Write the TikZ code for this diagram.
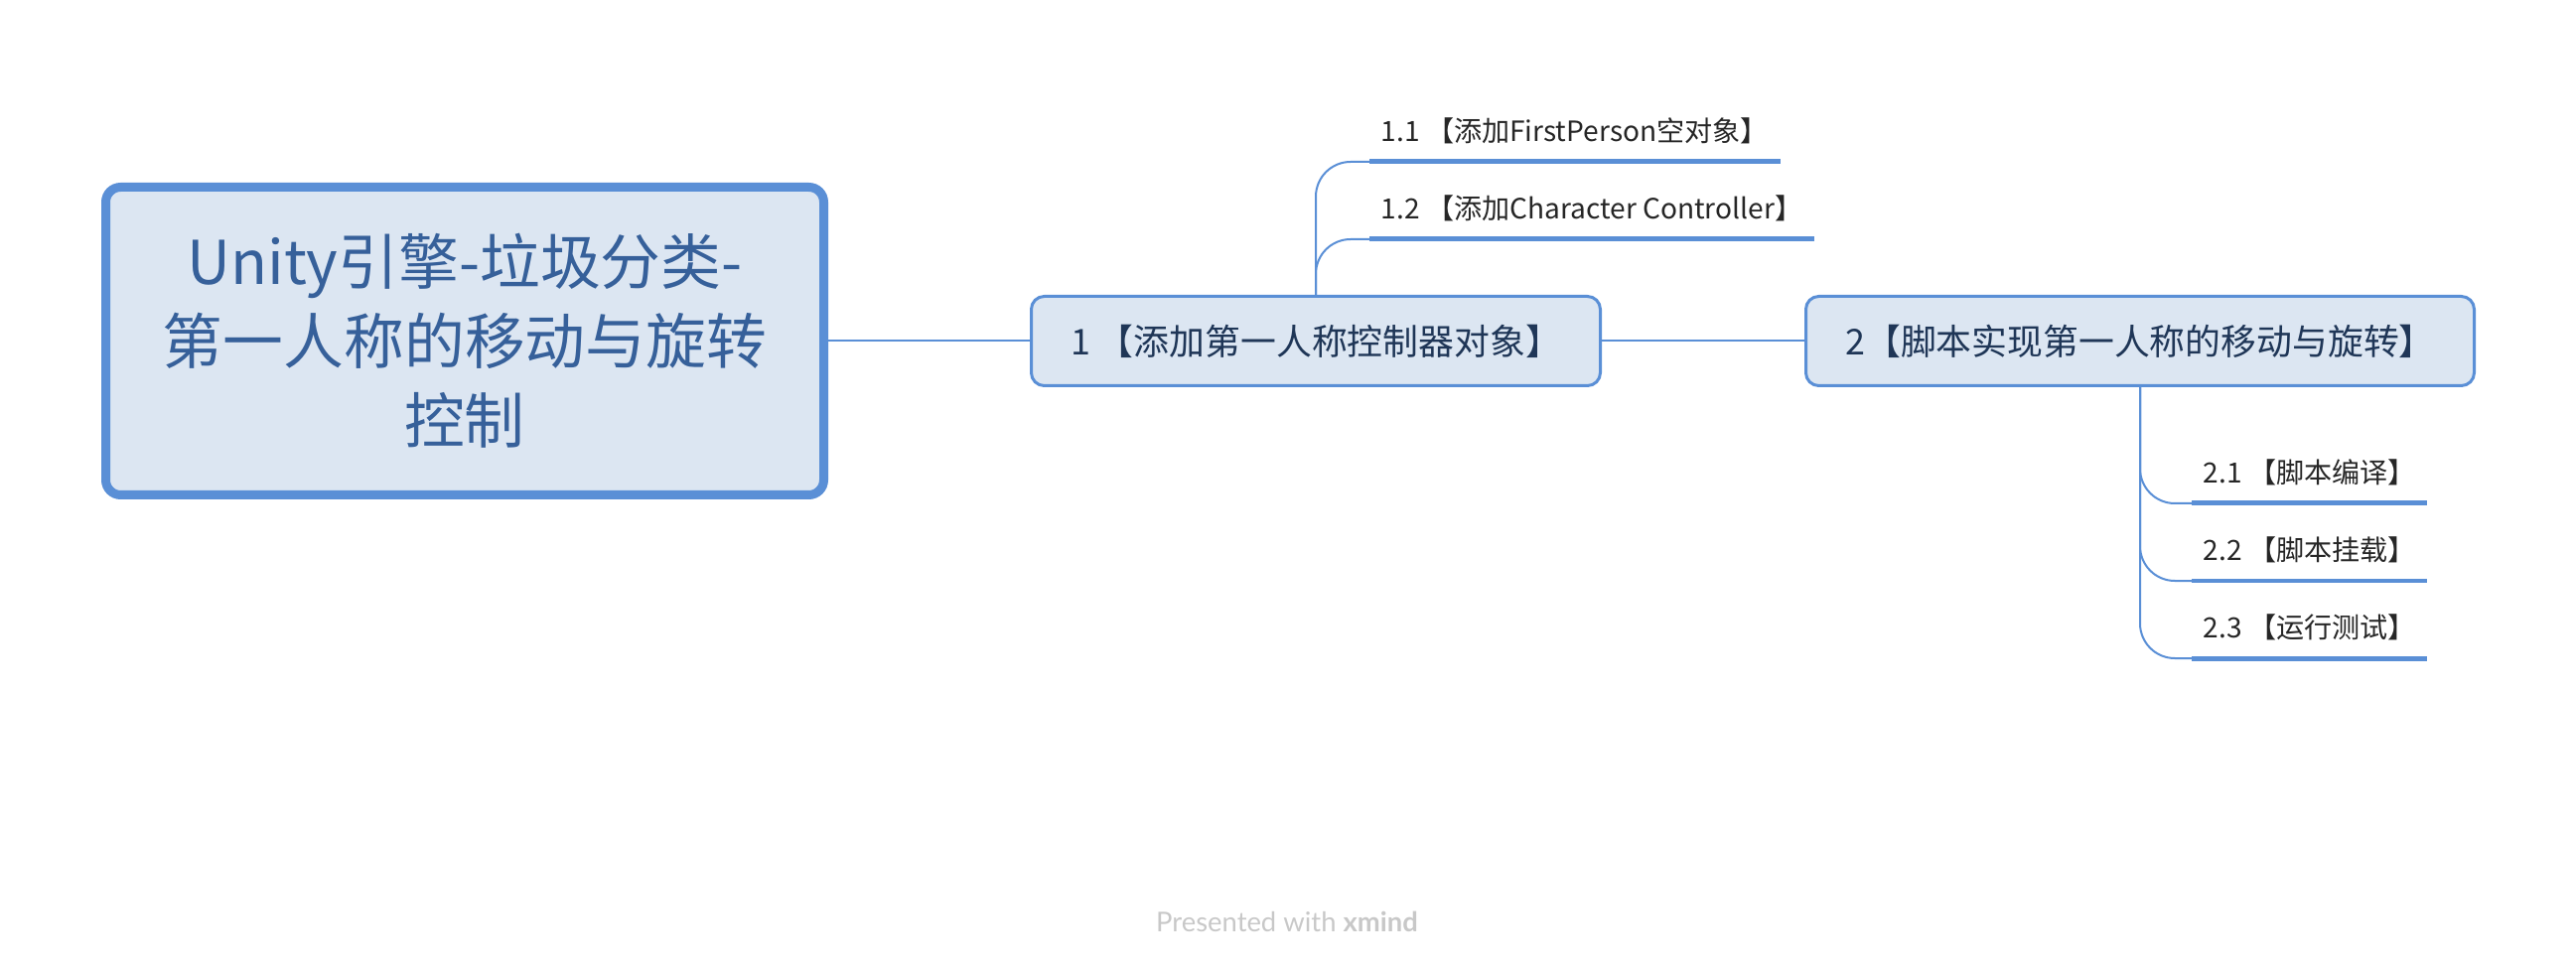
\documentclass[tikz,border=0pt]{standalone}
\usepackage{fontspec}
\setmainfont{Noto Sans CJK SC}
\newfontfamily\creditfont{Lato}
\usetikzlibrary{positioning}

\definecolor{mapblue}{HTML}{5A8FD6}
\definecolor{mapfill}{HTML}{DCE6F2}
\definecolor{roottext}{HTML}{36609A}
\definecolor{topictext}{HTML}{1F3657}
\definecolor{credittext}{HTML}{C8C8C8}

\tikzset{
    rootbox/.style={draw=mapblue, fill=mapfill, line width=0.9mm, rounded corners=1.5mm,
        minimum width=72.3mm, minimum height=31mm, align=center, text=roottext,
        font=\fontsize{17.3}{22.8}\selectfont},
    topic/.style={draw=mapblue, fill=mapfill, line width=0.3mm, rounded corners=1.3mm,
        minimum height=9mm, text=topictext, font=\fontsize{10.2}{12}\selectfont},
    leaf/.style={anchor=south west, inner xsep=1.1mm, inner ysep=2mm, text depth=0pt,
        text=black!85, font=\fontsize{8}{10}\selectfont},
    underline/.style={mapblue, line width=0.5mm},
    branch/.style={mapblue, line width=0.2mm},
}

\begin{document}
\begin{tikzpicture}[x=0.1mm, y=-0.1mm]
    \useasboundingbox (0,0) rectangle (2594,978);

    \node[rootbox] (root) at (468,343.5) {Unity引擎-垃圾分类-\\第一人称的移动与旋转\\控制};

    \node[topic, minimum width=57.3mm] (n1) at (1325,343.5) {1 【添加第一人称控制器对象】};
    \node[topic, minimum width=67.3mm] (n2) at (2155,343.5) {2【脚本实现第一人称的移动与旋转】};

    \node[leaf] (t11) at (1379,163) {1.1 【添加FirstPerson空对象】};
    \node[leaf] (t12) at (1379,241) {1.2 【添加Character Controller】};
    \node[leaf] (t21) at (2207,507) {2.1 【脚本编译】};
    \node[leaf] (t22) at (2207,585) {2.2 【脚本挂载】};
    \node[leaf] (t23) at (2207,663) {2.3 【运行测试】};

    \draw[branch] (root.east) -- (n1.west);
    \draw[branch] (n1.east) -- (n2.west);

    \foreach \t in {t11,t12}
        \draw[branch, rounded corners=3.5mm] (n1.north) |- (\t.south west);
    \foreach \t in {t21,t22,t23}
        \draw[branch, rounded corners=3.5mm] (n2.south) |- (\t.south west);

    \foreach \t in {t11,t12,t21,t22,t23}
        \draw[underline] (\t.south west) -- (\t.south east);

    \node[font=\creditfont\fontsize{7.8}{9}\selectfont, text=credittext] (credit) at (1296,928)
        {Presented with \textbf{xmind}};
\end{tikzpicture}
\end{document}
